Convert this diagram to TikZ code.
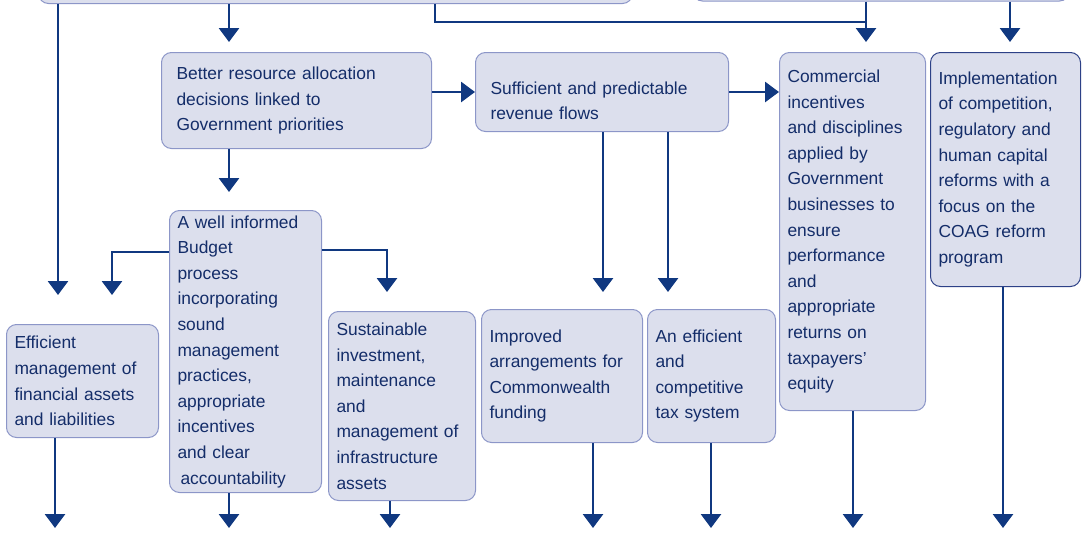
\documentclass[tikz,border=0pt]{standalone}
\usepackage{fontspec}
\setmainfont{Liberation Sans}
\usetikzlibrary{arrows.meta}
\definecolor{boxfill}{RGB}{220,223,237}
\definecolor{boxline}{RGB}{140,150,200}
\definecolor{darkline}{RGB}{45,65,135}
\definecolor{textblue}{RGB}{20,45,105}
\definecolor{arrowblue}{RGB}{16,56,128}
\begin{document}
\begin{tikzpicture}[x=1pt,y=-1pt]
\tikzstyle{box}=[draw=boxline,fill=boxfill,line width=1pt,rounded corners=10pt,
  anchor=north west,inner xsep=8pt,align=left,text=textblue,
  font=\fontsize{17.4}{25.6}\selectfont];
\tikzstyle{link}=[draw=arrowblue,line width=2.8pt];
\tikzstyle{arr}=[link,-{Triangle[width=20pt,length=14pt]}];
\clip (0,0) rectangle (1082,533);
\useasboundingbox (0,0) rectangle (1082,533);
% boxes cut off at the top
\node[box,anchor=south west,minimum width=594pt,minimum height=60pt] (topL) at (38,4) {};
\node[box,anchor=south west,minimum width=377pt,minimum height=60pt] (topR) at (692,1.5) {};
% second row
\node[box,inner xsep=15pt,minimum width=270pt,minimum height=96pt,text width=240pt] (better) at (161,52)
  {Better resource allocation\\decisions linked to\\Government priorities};
\node[box,inner xsep=15pt,minimum width=253pt,minimum height=79pt,text width=223pt] (sufficient) at (475,52)
  {\rule{0pt}{30pt}Sufficient and predictable\\revenue flows};
\node[box,minimum width=146pt,minimum height=358pt,text width=130pt] (commercial) at (779,52)
  {Commercial\\incentives\\and disciplines\\applied by\\Government\\businesses to\\ensure\\performance\\and\\appropriate\\returns on\\taxpayers’\\equity};
\node[box,draw=darkline,minimum width=150pt,minimum height=234pt,text width=134pt] (implement) at (930,52)
  {Implementation\\of competition,\\regulatory and\\human capital\\reforms with a\\focus on the\\COAG reform\\program};
% third row
\node[box,minimum width=152pt,minimum height=282pt,text width=136pt] (informed) at (169,210)
  {A well informed\\Budget\\process\\incorporating\\sound\\management\\practices,\\appropriate\\incentives\\and clear\\\hspace{3pt}accountability};
\node[box,minimum width=152pt,minimum height=113pt,text width=136pt] (efficient) at (6,324)
  {Efficient\\management of\\financial assets\\and liabilities};
\node[box,minimum width=147pt,minimum height=189pt,text width=131pt] (sustain) at (328,311)
  {Sustainable\\investment,\\maintenance\\and\\management of\\infrastructure\\assets};
\node[box,minimum width=161pt,minimum height=133pt,text width=145pt] (improved) at (481,309)
  {Improved\\arrangements for\\Commonwealth\\funding};
\node[box,minimum width=128pt,minimum height=133pt,text width=112pt] (taxsys) at (647,309)
  {An efficient\\and\\competitive\\tax system};
% arrow ends
\coordinate (tEff) at (58,295);
\coordinate (tBetter) at (229,42);
\coordinate (jL) at (435,22);
\coordinate (jR) at (866,22);
\coordinate (tComm) at (866,42);
\coordinate (tImpl) at (1010,42);
\coordinate (tInf) at (229,192);
\coordinate (tLeft) at (112,295);
\coordinate (tRight) at (387,292);
\coordinate (tImp) at (603,292);
\coordinate (tTax) at (668,292);
\coordinate (bEff) at (55,528);
\coordinate (bInf) at (229,528);
\coordinate (bSus) at (390,528);
\coordinate (bImp) at (593,528);
\coordinate (bTax) at (711,528);
\coordinate (bComm) at (853,528);
\coordinate (bImpl) at (1003,528);
% connectors
\draw[arr] (topL.south -| tEff) -- (tEff);
\draw[arr] (topL.south -| tBetter) -- (tBetter);
\draw[link] (topL.south -| jL) -- (jL) -- (jR);
\draw[arr] (topR.south -| tComm) -- (tComm);
\draw[arr] (topR.south -| tImpl) -- (tImpl);
\draw[arr] (better.east |- sufficient.west) -- (sufficient.west);
\draw[arr] (sufficient.east) -- (sufficient.east -| commercial.west);
\draw[arr] (better.south -| tInf) -- (tInf);
\draw[arr] ([yshift=-42pt]informed.north west) -| (tLeft);
\draw[arr] ([yshift=-40pt]informed.north east) -| (tRight);
\draw[arr] (sufficient.south -| tImp) -- (tImp);
\draw[arr] (sufficient.south -| tTax) -- (tTax);
\draw[arr] (efficient.south -| bEff) -- (bEff);
\draw[arr] (informed.south -| bInf) -- (bInf);
\draw[arr] (sustain.south -| bSus) -- (bSus);
\draw[arr] (improved.south -| bImp) -- (bImp);
\draw[arr] (taxsys.south -| bTax) -- (bTax);
\draw[arr] (commercial.south -| bComm) -- (bComm);
\draw[arr] (implement.south -| bImpl) -- (bImpl);
\end{tikzpicture}
\end{document}
